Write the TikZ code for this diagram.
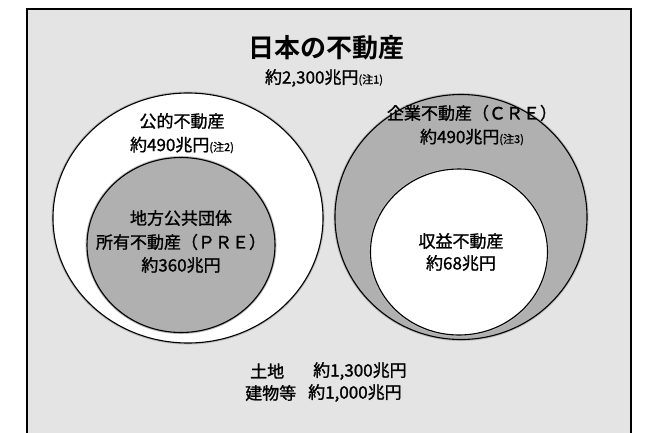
\documentclass[tikz,border=0pt]{standalone}
\usepackage{fontspec}
\setmainfont{Noto Sans CJK JP}[BoldFont={Noto Sans CJK JP Bold}]
\newfontfamily\medfont{Noto Sans CJK JP}[FakeBold=1.2]
\usetikzlibrary{shapes.geometric}
\definecolor{bggray}{HTML}{E4E4E4}
\definecolor{ringgray}{HTML}{B0B0B0}
\newcommand{\notesz}{\fontsize{11}{12}\selectfont}
\begin{document}
\begin{tikzpicture}[x=1pt,y=-1pt,
  txt/.style={font=\medfont\fontsize{17}{20}\selectfont, inner sep=0pt, anchor=center},
  ttl/.style={font=\fontsize{26}{30}\selectfont\bfseries, inner sep=0pt},
  ring/.style={ellipse, draw=black, line width=1.1pt, inner sep=0pt,
    preaction={draw=gray!55, line width=3pt}}
]
\useasboundingbox (0,0) rectangle (646,432);
\clip (0,0) rectangle (646,432);
\fill[white] (0,0) rectangle (646,432);
\draw[line width=1.8pt, fill=bggray] (27,9) rectangle (631,450);

% circles
\node[ring, fill=white, minimum width=270pt, minimum height=250pt] (pub) at (188,218) {};
\node[ring, fill=ringgray, minimum width=188pt, minimum height=175pt] (pre) at (181,245) {};
\node[ring, fill=ringgray, minimum width=252pt, minimum height=245pt] (cre) at (461,217) {};
\node[ring, fill=white, minimum width=177pt, minimum height=166pt] (inc) at (459,252) {};

% texts
\node[ttl] (title) at (326,48) {日本の不動産};
\node[txt] (total) at (324,78) {約2,300兆円{\notesz(注1)}};

\node[txt] (pubname) at (182,121) {公的不動産};
\node[txt] (pubval) at (182,145) {約490兆円{\notesz(注2)}};

\node[txt] (pre1) at (181,218) {地方公共団体};
\node[txt] (pre2) at (181,242) {所有不動産（ＰＲＥ）};
\node[txt] (pre3) at (181,265) {約360兆円};

\node[txt] (crename) at (472,113) {企業不動産（ＣＲＥ）};
\node[txt] (creval) at (472,137) {約490兆円{\notesz(注3)}};

\node[txt] (inc1) at (461,241) {収益不動産};
\node[txt] (inc2) at (461,263) {約68兆円};

\node[txt, anchor=west] (land) at (250,371) {土地};
\node[txt, anchor=west] (landv) at (313,371) {約1,300兆円};
\node[txt, anchor=west] (bld) at (245,393) {建物等};
\node[txt, anchor=west] (bldv) at (308,393) {約1,000兆円};
\end{tikzpicture}
\end{document}
